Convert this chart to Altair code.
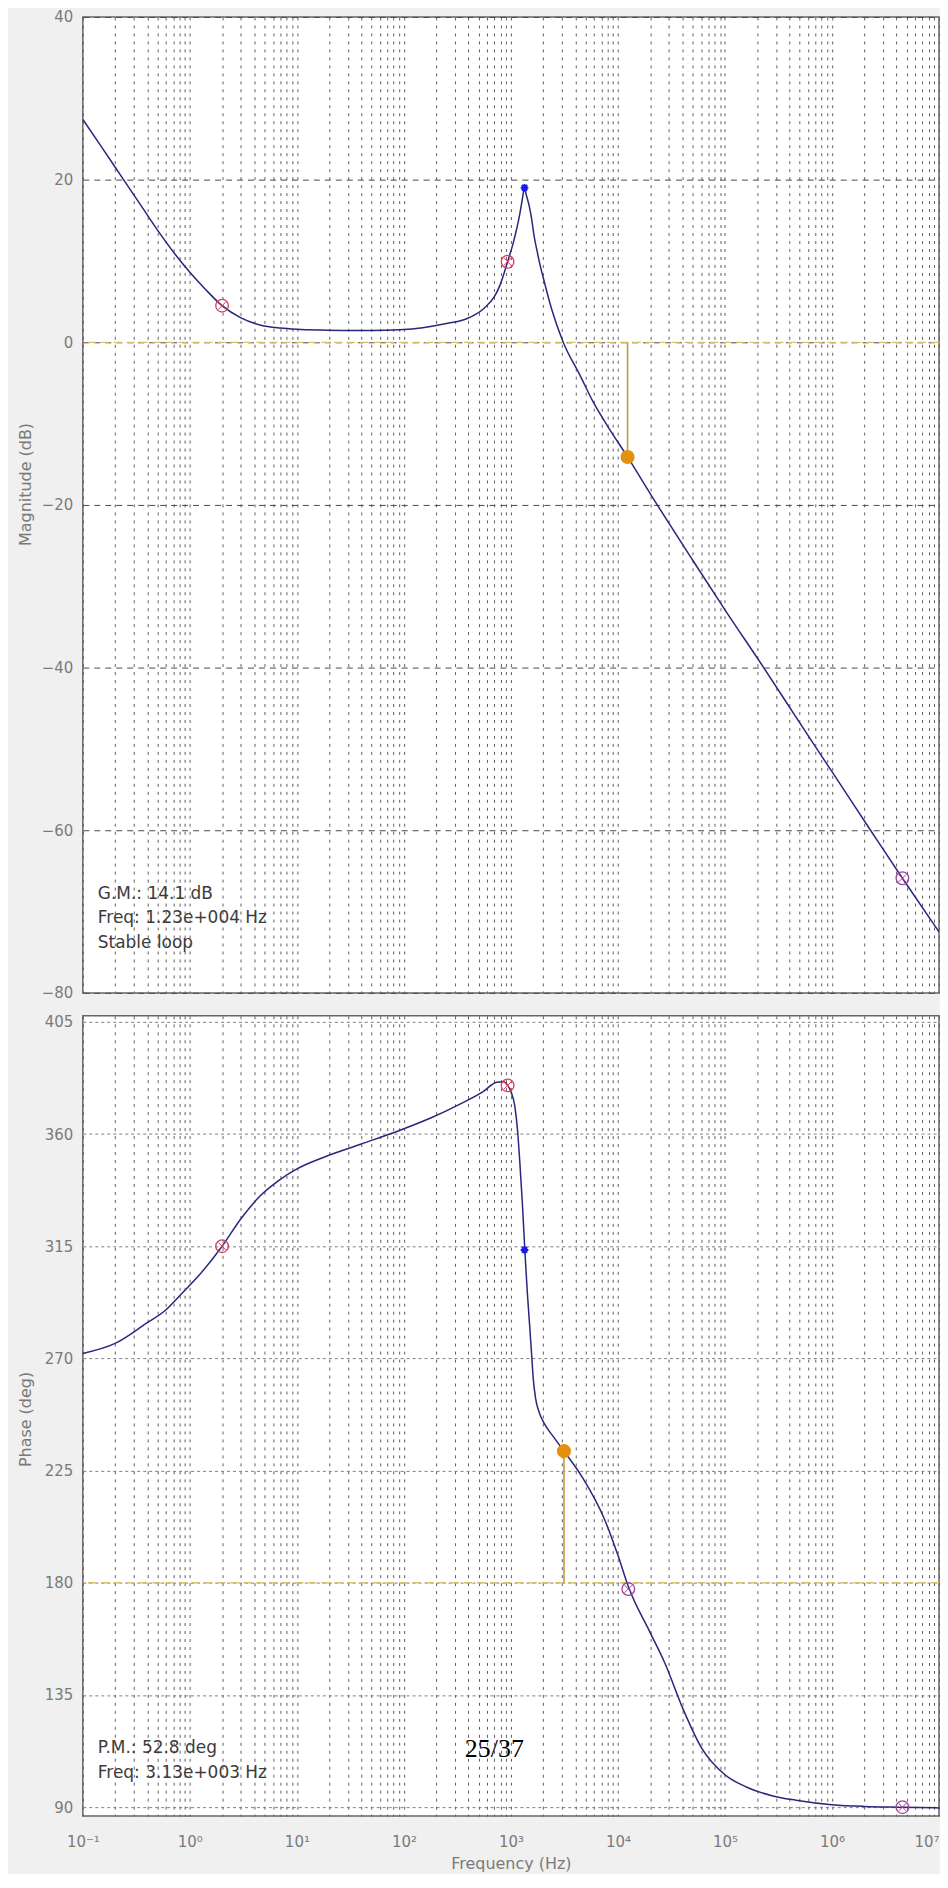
import altair as alt
import pandas as pd

# ---------------- data ----------------
FREQ_MAG = [0.1, 0.15, 0.24, 0.35, 0.53, 0.75, 1.0, 1.4, 2.0, 3.0,
            4.6, 7.0, 10, 16.6, 30, 50, 92, 150, 250, 386,
            552, 700, 789, 931, 1050, 1130, 1200, 1260, 1300, 1330,
            1400, 1480, 1560, 1650, 1738, 1850, 2000, 2400, 3080, 4400,
            5850, 8000, 12300, 20000, 50000, 100000, 230000, 500000, 1000000, 2400000,
            4550000, 10000000]
MAG_DB = [27.4, 24.0, 20.0, 16.8, 13.3, 10.6, 8.6, 6.5, 4.5, 3.0,
          2.1, 1.75, 1.6, 1.5, 1.45, 1.45, 1.55, 1.8, 2.3, 2.9,
          4.1, 5.6, 7.0, 9.9, 12.2, 13.9, 15.5, 17.1, 18.2, 19.0,
          18.0, 16.8, 15.2, 13.0, 11.5, 9.8, 8.0, 4.1, 0.0, -4.0,
          -7.3, -10.3, -14.1, -18.6, -26.8, -32.9, -40.0, -46.8, -52.8, -60.4,
          -65.9, -72.5]

FREQ_PH = [0.1, 0.2, 0.39, 0.6, 0.84, 1.2, 2.0, 3.0, 4.5, 6.6,
           10, 18.6, 40, 92, 180, 334, 550, 736, 850, 931,
           1000, 1089, 1150, 1214, 1280, 1349, 1420, 1503, 1570, 1616,
           1700, 1850, 2040, 2500, 3130, 4700, 7470, 10000, 12500, 20000,
           27300, 40000, 60000, 100000, 160000, 280000, 460000, 1000000, 2000000, 4550000,
           10000000]
PHASE_DEG = [272.0, 276.0, 284.0, 289.5, 296.0, 303.0, 315.0, 326.0, 335.0, 341.0,
             346.0, 351.0, 356.0, 361.5, 366.5, 372.0, 377.0, 380.8, 381.0, 379.5,
             377.0, 371.0, 362.0, 348.0, 332.0, 313.5, 297.0, 282.0, 270.0, 262.0,
             254.0, 248.0, 244.0, 238.5, 232.8, 222.0, 205.6, 191.0, 178.5, 160.0,
             148.0, 130.0, 114.0, 103.0, 98.0, 94.5, 92.8, 91.0, 90.3, 90.0,
             89.7]

CIRC_MAG_F = [2.0, 931, 4550000]
CIRC_MAG_V = [4.5, 9.9, -65.9]
CIRC_MAG_C = ["#d2405e", "#d2405e", "#a0449c"]
CIRC_PH_F = [2.0, 931, 12500, 4550000]
CIRC_PH_V = [315.0, 379.5, 177.5, 90.0]
CIRC_PH_C = ["#d2405e", "#d2405e", "#a0449c", "#a0449c"]

STAR_F = [1340]
STAR_MAG = [19.0]
STAR_PH = [313.5]

GM_F = [12300]
GM_DB = [-14.1]
PM_F = [3130]
PM_DEG = [232.8]

MAG_TICKS = [-80, -60, -40, -20, 0, 20, 40]
PH_TICKS = [90, 135, 180, 225, 270, 315, 360, 405]
X_MAJOR = [0.1, 1, 10, 100, 1e3, 1e4, 1e5, 1e6, 1e7]
X_LABELS = ["10⁻¹", "10⁰", "10¹", "10²", "10³", "10⁴", "10⁵", "10⁶", "10⁷"]

MAG_TEXT = ["G.M.: 14.1 dB", "Freq: 1.23e+004 Hz", "Stable loop"]
MAG_TEXT_V = [-67.8, -70.8, -73.9]
PH_TEXT = ["P.M.: 52.8 deg", "Freq: 3.13e+003 Hz"]
PH_TEXT_V = [113.6, 103.6]
TEXT_F = 0.138
PAGE_LABEL = ["25/37"]
PAGE_F = [700]
PAGE_V = [113.5]

# ---------------- styling ----------------
FONT = "DejaVu Sans"
AX_COL = "#7a7a7a"
CURVE = "#28287c"
YEL = "#d2c36a"
ORANGE_LINE = "#c49a3c"
ORANGE_DOT = "#e3900f"
W = 858

XGRID = [m * k for m in X_MAJOR[:-1] for k in range(1, 10)] + [X_MAJOR[-1]]
lab_arr = "[" + ",".join("'" + s + "'" for s in X_LABELS) + "]"
LOGX = "(log(datum.value)/LN10)"
label_expr = ("abs(" + LOGX + " - round(" + LOGX + ")) < 0.001 ? "
              + lab_arr + "[round(" + LOGX + ")+1] : ''")

xscale = alt.Scale(type="log", domain=[0.1, 1e7], nice=False)
VGRID = dict(grid=True, gridDash=[3, 5], gridColor="#5e5e5e", gridWidth=1,
             ticks=False, domain=False)


def x_enc(show):
    if show:
        ax = alt.Axis(values=XGRID, labelExpr=label_expr,
                      labelAlign={"expr": "datum.value > 5000000 ? 'right' : 'center'"},
                      labelOverlap=False, labelFlush=False, labelPadding=18,
                      labelFont=FONT, labelFontSize=15, labelColor=AX_COL,
                      title="Frequency (Hz)", titleFont=FONT, titleFontSize=16,
                      titleFontWeight="normal", titleColor=AX_COL, titlePadding=6,
                      **VGRID)
    else:
        ax = alt.Axis(values=XGRID, labels=False, title=None, **VGRID)
    return alt.X("f:Q", scale=xscale, axis=ax)


def y_enc(domain, ticks, title, dash, gcol, title_y):
    return alt.Y("v:Q", scale=alt.Scale(domain=domain, nice=False, zero=False),
                 axis=alt.Axis(values=ticks, grid=True, gridDash=dash, gridColor=gcol,
                               gridWidth=1, ticks=False, domain=False, labelPadding=10,
                               labelFont=FONT, labelFontSize=15, labelColor=AX_COL,
                               title=title, titleX=-57, titleY=title_y,
                               titleBaseline="middle",
                               titleFont=FONT, titleFontSize=16, titleFontWeight="normal",
                               titleColor=AX_COL))


def panel(x, y, curve_df, circ_df, star_df, ref_v, marg_df, text_df, height, extra=None):
    line = alt.Chart(curve_df).mark_line(interpolate="monotone", color=CURVE,
                                         strokeWidth=1.5).encode(x=x, y=y)
    ref = alt.Chart(pd.DataFrame({"v": [ref_v]})).mark_rule(
        color=YEL, strokeDash=[8, 5], strokeWidth=1.3).encode(y=y)
    mrule = alt.Chart(marg_df).mark_rule(color=ORANGE_LINE, strokeWidth=1.6).encode(
        x=x, y=y, y2="v2:Q")
    mdot = alt.Chart(marg_df).mark_point(filled=True, shape="circle", size=200,
                                         color=ORANGE_DOT, opacity=1).encode(x=x, y=y)
    circ = alt.Chart(circ_df).mark_point(shape="circle", filled=False, size=160,
                                         strokeWidth=1.3, opacity=1).encode(
        x=x, y=y, color=alt.Color("c:N", scale=None))
    cross = alt.Chart(circ_df).mark_point(
        shape="M-0.6,-0.6L0.6,0.6M-0.6,0.6L0.6,-0.6", filled=False, size=160,
        strokeWidth=1, opacity=1).encode(x=x, y=y, color=alt.Color("c:N", scale=None))
    star = alt.Chart(star_df).mark_point(
        shape="M0,-1L0,1M-1,0L1,0M-0.7,-0.7L0.7,0.7M-0.7,0.7L0.7,-0.7", filled=False,
        size=60, strokeWidth=2, color="#1c1ce0", opacity=1).encode(x=x, y=y)
    txt = alt.Chart(text_df).mark_text(align="left", baseline="middle", font=FONT,
                                       fontSize=17, color="#3c3c3c").encode(
        x=x, y=y, text="t:N")
    layers = [ref, line, mrule, mdot, circ, cross, star, txt]
    if extra is not None:
        layers.append(extra)
    return alt.layer(*layers).properties(width=W, height=height)


# ---------------- magnitude panel ----------------
x_top = x_enc(False)
y_mag = y_enc([-80, 40], MAG_TICKS, "Magnitude (dB)", [6, 5], "#4a4a4a", 468)
mag_df = pd.DataFrame({"f": FREQ_MAG, "v": MAG_DB})
circ_mag = pd.DataFrame({"f": CIRC_MAG_F, "v": CIRC_MAG_V, "c": CIRC_MAG_C})
star_mag = pd.DataFrame({"f": STAR_F, "v": STAR_MAG})
gm_df = pd.DataFrame({"f": GM_F, "v": GM_DB, "v2": [0.0]})
mag_txt = pd.DataFrame({"f": [TEXT_F] * len(MAG_TEXT), "v": MAG_TEXT_V, "t": MAG_TEXT})
top = panel(x_top, y_mag, mag_df, circ_mag, star_mag, 0, gm_df, mag_txt, 978)

# ---------------- phase panel ----------------
x_bot = x_enc(True)
y_ph = y_enc([86.4, 407.4], PH_TICKS, "Phase (deg)", [3, 3], "#808080", 404)
ph_df = pd.DataFrame({"f": FREQ_PH, "v": PHASE_DEG})
circ_ph = pd.DataFrame({"f": CIRC_PH_F, "v": CIRC_PH_V, "c": CIRC_PH_C})
star_ph = pd.DataFrame({"f": STAR_F, "v": STAR_PH})
pm_df = pd.DataFrame({"f": PM_F, "v": PM_DEG, "v2": [180.0]})
ph_txt = pd.DataFrame({"f": [TEXT_F] * len(PH_TEXT), "v": PH_TEXT_V, "t": PH_TEXT})
page = alt.Chart(pd.DataFrame({"f": PAGE_F, "v": PAGE_V, "t": PAGE_LABEL})).mark_text(
    align="center", baseline="middle", font="Liberation Serif", fontSize=26,
    color="#000000").encode(x=x_bot, y=y_ph, text="t:N")
bottom = panel(x_bot, y_ph, ph_df, circ_ph, star_ph, 180, pm_df, ph_txt, 802, extra=page)

chart = alt.vconcat(top, bottom, spacing=12).properties(
    background="#f0f0f0",
    padding={"top": -1, "left": 9, "right": -3, "bottom": 0},
).configure_view(stroke="#666666", strokeWidth=1.5, fill="white")

chart.save("out.html", embed_options={"renderer": "svg", "actions": False})
